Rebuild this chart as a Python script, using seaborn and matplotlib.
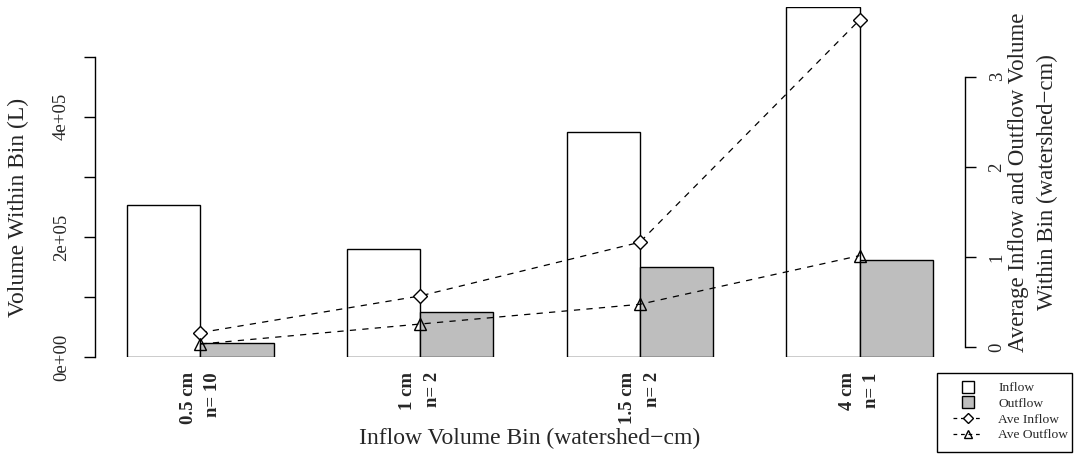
import matplotlib
matplotlib.use("Agg")
import matplotlib.pyplot as plt
import seaborn as sns
import pandas as pd
from matplotlib.lines import Line2D
from matplotlib.patches import Rectangle

# ---- data ----
bins = ["0.5 cm", "1 cm", "1.5 cm", "4 cm"]
n_events = [10, 2, 2, 1]
inflow_volume = [2.53e5, 1.80e5, 3.75e5, 5.83e5]
outflow_volume = [0.24e5, 0.75e5, 1.505e5, 1.615e5]
ave_inflow = [0.16, 0.567, 1.163, 3.63]
ave_outflow = [0.033, 0.255, 0.474, 1.014]
left_ticks = [0, 1e5, 2e5, 3e5, 4e5, 5e5]
left_ticklabels = ["0e+00", "", "2e+05", "", "4e+05", ""]
right_ticks = [0, 1, 2, 3]

sns.set_theme(style="white")
plt.rcParams["font.family"] = ["Liberation Serif", "DejaVu Serif"]

df = pd.DataFrame({
    "bin": bins * 2,
    "volume": inflow_volume + outflow_volume,
    "series": ["Inflow"] * 4 + ["Outflow"] * 4,
})

W, H = 1075, 454
fig = plt.figure(figsize=(W / 100, H / 100), dpi=100)
left, right, bottom, top = 95, 965, 357, 7
ax = fig.add_axes([left / W, 1 - bottom / H, (right - left) / W, (bottom - top) / H])

sns.barplot(data=df, x="bin", y="volume", hue="series", order=bins,
            palette={"Inflow": "white", "Outflow": "#BEBEBE"}, saturation=1,
            width=2 / 3, edgecolor="black", linewidth=1.0, legend=False, ax=ax)
ax.set_xlim(-0.48, 3.48)
ax.set_ylim(0, max(inflow_volume))

for s in ["top", "right", "bottom"]:
    ax.spines[s].set_visible(False)
ax.spines["left"].set_bounds(0, 5e5)
ax.spines["left"].set_color("black")
ax.spines["left"].set_linewidth(1.0)
ax.set_yticks(left_ticks)
ax.set_yticklabels(left_ticklabels, rotation=90, va="center", fontsize=13.5)
ax.tick_params(axis="y", direction="out", length=8, width=1.0, color="black", pad=10, left=True)
xlabels = [f"{b}\nn= {k}" for b, k in zip(bins, n_events)]
ax.set_xticks(range(len(bins)))
ax.set_xticklabels(xlabels, rotation=90, ha="center", va="top", multialignment="right",
                   fontsize=13.5, family="Liberation Serif", fontweight="bold", linespacing=1.6)
ax.tick_params(axis="x", length=0, pad=11)
ax.set_xlabel("Inflow Volume Bin (watershed\u2212cm)", fontsize=17)
ax.xaxis.set_label_coords(0.5, (bottom - 438) / (bottom - top))
ax.xaxis.label.set_va("center")
ax.set_ylabel("Volume Within Bin (L)", fontsize=17)
ax.yaxis.set_label_coords((18 - left) / (right - left), (bottom - 207) / (bottom - top))
ax.yaxis.label.set_va("center")
ax.grid(False)

ax2 = ax.twinx()
x = list(range(len(bins)))
ax2.plot(x, ave_inflow, linestyle=(0, (5, 5)), color="black", linewidth=0.9,
         marker="D", markersize=7, markerfacecolor="white", markeredgecolor="black", markeredgewidth=1.0)
ax2.plot(x, ave_outflow, linestyle=(0, (5, 5)), color="black", linewidth=0.9,
         marker="^", markersize=9, markerfacecolor="none", markeredgecolor="black", markeredgewidth=1.0)
lo, hi = min(ave_outflow + ave_inflow), max(ave_outflow + ave_inflow)
pad = 0.04 * (hi - lo)
ax2.set_ylim(lo - pad, hi + pad)
for s in ["top", "left", "bottom"]:
    ax2.spines[s].set_visible(False)
ax2.spines["right"].set_bounds(0, 3)
ax2.spines["right"].set_color("black")
ax2.spines["right"].set_linewidth(1.0)
ax2.set_yticks(right_ticks)
ax2.set_yticklabels([str(t) for t in right_ticks], rotation=90, va="center", fontsize=13.5)
ax2.tick_params(axis="y", direction="out", length=8, width=1.0, color="black", pad=9, right=True)
ax2.set_ylabel("Average Inflow and Outflow Volume\nWithin Bin (watershed\u2212cm)",
               fontsize=16.5, linespacing=1.45)
ax2.yaxis.set_label_coords((1033 - left) / (right - left), 0.5)
ax2.yaxis.label.set_va("center")
ax2.yaxis.label.set_ha("center")
ax2.grid(False)

handles = [
    Line2D([], [], linestyle="none", marker="s", markersize=8,
           markerfacecolor="white", markeredgecolor="black", markeredgewidth=1.0),
    Line2D([], [], linestyle="none", marker="s", markersize=8,
           markerfacecolor="#BEBEBE", markeredgecolor="black", markeredgewidth=1.0),
    Line2D([], [], linestyle=(0, (3, 3)), color="black", linewidth=0.9, marker="D", markersize=5,
           markerfacecolor="white", markeredgecolor="black"),
    Line2D([], [], linestyle=(0, (3, 3)), color="black", linewidth=0.9, marker="^", markersize=6,
           markerfacecolor="none", markeredgecolor="black"),
]
leg = fig.legend(handles, ["Inflow", "Outflow", "Ave Inflow", "Ave Outflow"],
                 loc="upper left", bbox_to_anchor=(953 / W, 1 - 382 / H), fontsize=9.7,
                 frameon=False, borderaxespad=0, borderpad=0,
                 handlelength=2.2, handleheight=0.7, labelspacing=0.24,
                 handletextpad=1.15)
fig.patches.append(Rectangle((937 / W, 1 - 452 / H), 135 / W, 79 / H, transform=fig.transFigure,
                             fill=False, edgecolor="black", linewidth=1.0))

fig.savefig("out.png", dpi=100)
